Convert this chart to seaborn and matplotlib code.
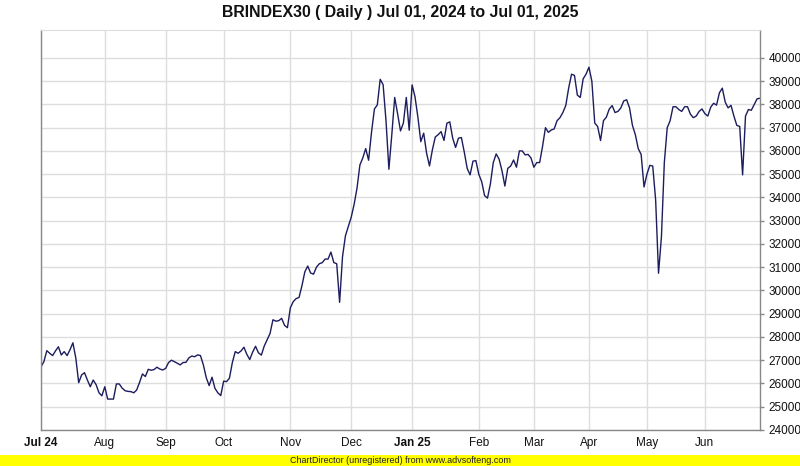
import numpy as np
import pandas as pd
import seaborn as sns
import matplotlib.pyplot as plt
from matplotlib.patches import Rectangle

# daily closes (one value per trading day)
closes = [
    26720, 26940, 27410, 27300, 27200, 27400, 27580, 27225, 27370, 27200,
    27450, 27750, 27100, 26035, 26365, 26465, 26150, 25860, 26150, 25950,
    25600, 25470, 25860, 25330, 25330, 25330, 25980, 25980, 25800, 25690,
    25660, 25650, 25600, 25720, 26050, 26410, 26300, 26610, 26570, 26600,
    26700, 26620, 26580, 26650, 26900, 27000, 26940, 26870, 26800, 26900,
    26910, 27100, 27180, 27150, 27230, 27200, 26800, 26250, 25910, 26270,
    25790, 25600, 25480, 26100, 26080, 26230, 26900, 27370, 27300, 27400,
    27560, 27250, 27030, 27350, 27600, 27320, 27220, 27610, 27880, 28150,
    28740, 28680, 28700, 28800, 28500, 28400, 29250, 29520, 29650, 29700,
    30200, 30800, 31050, 30750, 30700, 31000, 31150, 31195, 31350, 31350,
    31650, 31200, 31150, 29490, 31450, 32350, 32750, 33150, 33700, 34400,
    35400, 35700, 36100, 35600, 36800, 37800, 37980, 39080, 38850, 37300,
    35210, 36700, 38300, 37600, 36860, 37200, 38300, 36890, 38840, 38330,
    37450, 36400, 36765, 35900, 35355, 36050, 36600, 36700, 36830, 36450,
    37190, 37250, 36550, 36150, 36550, 36575, 35950, 35250, 34970, 35560,
    35585, 35000, 34680, 34080, 33970, 34580, 35500, 35870, 35650, 35150,
    34490, 35250, 35350, 35610, 35300, 36000, 36000, 35830, 35850, 35700,
    35300, 35500, 35500, 36200, 37000, 36800, 36900, 36945, 37300, 37430,
    37650, 37950, 38700, 39300, 39250, 38400, 38300, 39100, 39300, 39600,
    39000, 37200, 37050, 36450, 37300, 37450, 37800, 37950, 37650, 37700,
    37850, 38150, 38200, 37850, 37100, 36700, 36100, 35850, 34450, 35000,
    35380, 35350, 33900, 30740, 32300, 35500, 37000, 37300, 37900, 37900,
    37780, 37700, 37900, 37900, 37580, 37430, 37500, 37700, 37805, 37600,
    37500, 37880, 38050, 37970, 38500, 38700, 38100, 37850, 37960, 37500,
    37100, 37050, 34970, 37500, 37780, 37750, 38000, 38240, 38265,
]

month_pos = [0, 22, 43, 63, 86, 107, 128, 151, 170, 189, 209, 229]
month_labels = ['Jul 24', 'Aug', 'Sep', 'Oct', 'Nov', 'Dec',
                'Jan 25', 'Feb', 'Mar', 'Apr', 'May', 'Jun']
bold_labels = ['Jul 24', 'Jan 25']
y_ticks = list(range(24000, 41000, 1000))

df = pd.DataFrame({'day': np.arange(len(closes)), 'close': closes})

sns.set_style('white')
plt.rcParams['font.family'] = ['Liberation Sans', 'DejaVu Sans']

fig = plt.figure(figsize=(8, 4.66), dpi=100)
ax = fig.add_axes([41 / 800, 1 - 430 / 466, 719 / 800, 400 / 466])

sns.lineplot(data=df, x='day', y='close', color='#1c1c5e', linewidth=1.0, ax=ax)

ax.set_xlim(0, 248)
ax.set_ylim(24000, 41200)
ax.set_xticks(month_pos)
ax.set_xticklabels(month_labels)
for t in ax.get_xticklabels():
    if t.get_text() in bold_labels:
        t.set_fontweight('bold')
ax.set_yticks(y_ticks)
ax.set_yticklabels([str(v) for v in y_ticks])
ax.yaxis.tick_right()
ax.set_xlabel('')
ax.set_ylabel('')

ax.grid(True, color='#dddddd', linewidth=1)
ax.set_axisbelow(True)
ax.tick_params(axis='both', direction='out', length=3, width=1, color='#888888',
               labelsize=8.5, labelcolor='#111111', pad=2)
ax.tick_params(axis='y', pad=3)
for side in ['left', 'bottom', 'right']:
    ax.spines[side].set_color('#888888')
    ax.spines[side].set_linewidth(1)
ax.spines['top'].set_color('#dddddd')

fig.text(0.5, 1 - 12 / 466, 'BRINDEX30 ( Daily ) Jul 01, 2024 to Jul 01, 2025',
         ha='center', va='center', fontsize=11.4, fontweight='bold', color='#111111')

# unregistered banner along the bottom
fig.patches.append(Rectangle((0, 0), 1, 11 / 466, transform=fig.transFigure,
                             facecolor='#ffff00', edgecolor='none', zorder=0))
fig.text(0.5, 5.5 / 466, 'ChartDirector (unregistered) from www.advsofteng.com',
         ha='center', va='center', fontsize=6.5, color='#222222')

fig.savefig('out.png', dpi=100)
